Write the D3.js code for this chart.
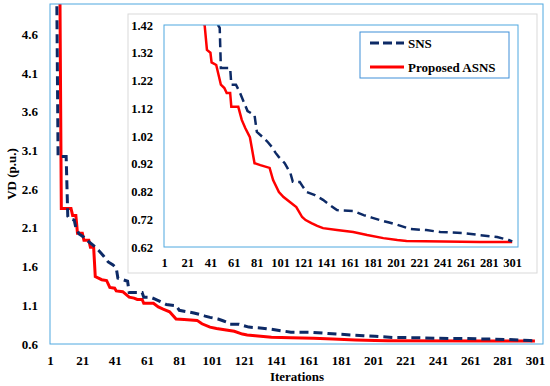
<!DOCTYPE html>
<html>
<head>
<meta charset="utf-8">
<script src="https://cdn.jsdelivr.net/npm/d3@7"></script>
<style>
  body { margin: 0; background: #fff; }
  svg text { font-family: "Liberation Serif", "Times New Roman", serif !important; font-weight: bold; fill: #000; }
</style>
</head>
<body>
<div id="chart"></div>
<script>
// SNS (dashed) - iteration / VD
const snsIter = [1, 5, 6, 11, 12, 13, 16, 17, 19, 22, 25, 28, 31, 34, 37, 40, 42, 43, 46, 49, 50, 58, 59, 63, 66, 69, 73, 79, 81, 86, 90, 94, 97, 100, 105, 108, 110, 112, 118, 121, 124, 131, 138, 144, 150, 164, 173, 180, 187, 195, 202, 213, 227, 239, 259, 273, 288, 298, 301];
const snsVD = [5.6, 5.6, 3.02, 3.02, 2.25, 2.22, 2.2, 2.1, 2.02, 1.98, 1.92, 1.87, 1.81, 1.74, 1.66, 1.62, 1.58, 1.45, 1.43, 1.41, 1.265, 1.265, 1.205, 1.205, 1.18, 1.15, 1.11, 1.095, 1.035, 1.016, 1.0, 0.98, 0.96, 0.944, 0.922, 0.9, 0.885, 0.855, 0.854, 0.835, 0.818, 0.807, 0.79, 0.771, 0.753, 0.75, 0.735, 0.726, 0.717, 0.708, 0.7, 0.685, 0.681, 0.674, 0.67, 0.663, 0.656, 0.645, 0.64];

// Proposed ASNS (solid)
const asnsIter = [1, 7, 8, 14, 15, 17, 18, 21, 22, 25, 26, 28, 29, 31, 33, 36, 38, 41, 42, 46, 50, 53, 55, 58, 59, 65, 68, 71, 75, 79, 84, 92, 95, 100, 104, 110, 115, 120, 123, 128, 133, 138, 150, 164, 176, 190, 202, 210, 273, 301];
const asnsVD = [5.6, 5.6, 2.35, 2.35, 2.26, 2.26, 2.03, 2.03, 1.94, 1.94, 1.85, 1.85, 1.47, 1.45, 1.43, 1.42, 1.33, 1.32, 1.285, 1.276, 1.205, 1.193, 1.175, 1.175, 1.125, 1.125, 1.078, 1.049, 1.016, 0.922, 0.915, 0.905, 0.861, 0.818, 0.8, 0.78, 0.764, 0.728, 0.717, 0.706, 0.696, 0.688, 0.681, 0.674, 0.663, 0.652, 0.645, 0.642, 0.638, 0.638];

const xTicks = d3.range(1, 302, 20);
const yTicks = [0.6, 1.1, 1.6, 2.1, 2.6, 3.1, 3.6, 4.1, 4.6];
const insetYTicks = [0.62, 0.72, 0.82, 0.92, 1.02, 1.12, 1.22, 1.32, 1.42];

const sns = snsIter.map((d, i) => ({ it: d, v: snsVD[i] }));
const asns = asnsIter.map((d, i) => ({ it: d, v: asnsVD[i] }));

const navy = "#0d2a66", red = "#ff0000", frameBlue = "#4fa8e0";
const serif = '"Liberation Serif", "Times New Roman", serif';

const svg = d3.select("#chart").append("svg")
  .attr("width", 550).attr("height", 386)
  .attr("font-family", serif);

// main chart
const x = d3.scaleLinear().domain([1, 306]).range([50, 543]);
const y = d3.scaleLinear().domain([0.6, 4.99]).range([344, 4]);

svg.append("clipPath").attr("id", "mainClip")
  .append("rect").attr("x", 50).attr("y", 4).attr("width", 493).attr("height", 340);

svg.append("g")
  .attr("transform", "translate(0,344)")
  .call(d3.axisBottom(x).tickValues(xTicks).tickSize(0).tickPadding(12))
  .attr("font-family", serif)
  .call(g => g.select(".domain").remove())
  .selectAll("text").style("font-size", "13px");

svg.append("g")
  .attr("transform", "translate(50,0)")
  .call(d3.axisLeft(y).tickValues(yTicks).tickFormat(d3.format(".1f")).tickSize(0).tickPadding(12))
  .attr("font-family", serif)
  .call(g => g.select(".domain").remove())
  .selectAll("text").style("font-size", "13px");

const line = d3.line().x(d => x(d.it)).y(d => y(d.v));

const mainLines = svg.append("g").attr("clip-path", "url(#mainClip)");
mainLines.append("path").datum(asns)
  .attr("d", line).attr("fill", "none")
  .attr("stroke", red).attr("stroke-width", 3);
mainLines.append("path").datum(sns)
  .attr("d", line).attr("fill", "none")
  .attr("stroke", navy).attr("stroke-width", 3).attr("stroke-dasharray", "9,5");

svg.append("rect").attr("x", 50).attr("y", 4).attr("width", 493).attr("height", 340)
  .attr("fill", "none").attr("stroke", frameBlue).attr("stroke-width", 1);

svg.append("text").attr("x", 297).attr("y", 381).attr("text-anchor", "middle")
  .style("font-size", "13px").text("Iterations");
svg.append("text").attr("transform", "translate(16,174) rotate(-90)")
  .attr("text-anchor", "middle").style("font-size", "13px").text("VD (p.u.)");

// inset chart
svg.append("rect").attr("x", 128).attr("y", 14).attr("width", 409).attr("height", 259)
  .attr("fill", "#fff").attr("stroke", "#d9d9d9").attr("stroke-width", 1);

const xi = d3.scaleLinear().domain([1, 306]).range([164, 518]);
const yi = d3.scaleLinear().domain([0.62, 1.42]).range([247, 25]);

svg.append("clipPath").attr("id", "insetClip")
  .append("rect").attr("x", 164).attr("y", 25).attr("width", 354).attr("height", 222);

svg.append("g")
  .attr("transform", "translate(0,247)")
  .call(d3.axisBottom(xi).tickValues(xTicks).tickSize(0).tickPadding(11))
  .attr("font-family", serif)
  .call(g => g.select(".domain").remove())
  .selectAll("text").style("font-size", "12.5px");

svg.append("g")
  .attr("transform", "translate(164,0)")
  .call(d3.axisLeft(yi).tickValues(insetYTicks).tickFormat(d3.format(".2f")).tickSize(0).tickPadding(11))
  .attr("font-family", serif)
  .call(g => g.select(".domain").remove())
  .selectAll("text").style("font-size", "12.5px");

const lineI = d3.line().x(d => xi(d.it)).y(d => yi(d.v));
const insetLines = svg.append("g").attr("clip-path", "url(#insetClip)");
insetLines.append("path").datum(asns)
  .attr("d", lineI).attr("fill", "none")
  .attr("stroke", red).attr("stroke-width", 2.5);
insetLines.append("path").datum(sns)
  .attr("d", lineI).attr("fill", "none")
  .attr("stroke", navy).attr("stroke-width", 2.5).attr("stroke-dasharray", "9,5");

svg.append("rect").attr("x", 164).attr("y", 25).attr("width", 354).attr("height", 222)
  .attr("fill", "none").attr("stroke", frameBlue).attr("stroke-width", 1);

// legend
const legend = svg.append("g");
legend.append("rect").attr("x", 360).attr("y", 32).attr("width", 149).attr("height", 46)
  .attr("fill", "#fff").attr("stroke", "#3f8fd8").attr("stroke-width", 1);
const items = [
  { name: "SNS", color: navy, dash: "9,4" },
  { name: "Proposed ASNS", color: red, dash: null }
];
items.forEach((d, i) => {
  const yy = 43 + i * 24;
  legend.append("line").attr("x1", 370).attr("x2", 404).attr("y1", yy).attr("y2", yy)
    .attr("stroke", d.color).attr("stroke-width", 3).attr("stroke-dasharray", d.dash);
  legend.append("text").attr("x", 408).attr("y", yy + 4.5)
    .style("font-size", "13px").text(d.name);
});
</script>
</body>
</html>
